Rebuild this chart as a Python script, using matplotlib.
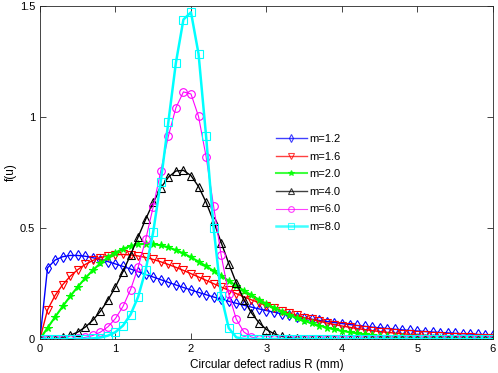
import numpy as np
import matplotlib
matplotlib.use("Agg")
import matplotlib.pyplot as plt

plt.rcParams["font.family"] = ["Liberation Sans", "DejaVu Sans"]

# defect radius grid (mm)
R = np.linspace(0, 6, 61)

f_m12 = [0, 0.3206, 0.3554, 0.3705, 0.3762, 0.3762, 0.3726, 0.3662, 0.3580, 0.3485, 0.3380,
         0.3268, 0.3151, 0.3032, 0.2911, 0.2790, 0.2670, 0.2551, 0.2434, 0.2319, 0.2207,
         0.2098, 0.1993, 0.1891, 0.1792, 0.1698, 0.1607, 0.1519, 0.1436, 0.1356, 0.1279,
         0.1206, 0.1137, 0.1071, 0.1008, 0.0948, 0.0891, 0.0837, 0.0787, 0.0738, 0.0693,
         0.0650, 0.0609, 0.0571, 0.0534, 0.0500, 0.0468, 0.0438, 0.0410, 0.0383, 0.0358,
         0.0334, 0.0312, 0.0291, 0.0272, 0.0253, 0.0236, 0.0220, 0.0205, 0.0191, 0.0178]
f_m16 = [0, 0.1315, 0.1960, 0.2443, 0.2823, 0.3123, 0.3358, 0.3537, 0.3665, 0.3750, 0.3795,
         0.3806, 0.3786, 0.3740, 0.3671, 0.3581, 0.3476, 0.3357, 0.3227, 0.3088, 0.2943,
         0.2794, 0.2643, 0.2491, 0.2340, 0.2191, 0.2045, 0.1902, 0.1765, 0.1633, 0.1506,
         0.1386, 0.1272, 0.1164, 0.1062, 0.0967, 0.0879, 0.0797, 0.0720, 0.0650, 0.0585,
         0.0526, 0.0471, 0.0421, 0.0376, 0.0335, 0.0298, 0.0264, 0.0234, 0.0206, 0.0182,
         0.0160, 0.0141, 0.0124, 0.0108, 0.0094, 0.0082, 0.0072, 0.0062, 0.0054, 0.0047]
f_m20 = [0, 0.0499, 0.0990, 0.1467, 0.1922, 0.2349, 0.2742, 0.3096, 0.3409, 0.3675, 0.3894,
         0.4065, 0.4186, 0.4260, 0.4288, 0.4273, 0.4218, 0.4127, 0.4004, 0.3853, 0.3679,
         0.3487, 0.3280, 0.3065, 0.2843, 0.2620, 0.2399, 0.2182, 0.1972, 0.1771, 0.1581,
         0.1403, 0.1237, 0.1084, 0.0945, 0.0819, 0.0705, 0.0604, 0.0514, 0.0435, 0.0366,
         0.0307, 0.0255, 0.0211, 0.0174, 0.0142, 0.0116, 0.0094, 0.0076, 0.0061, 0.0048,
         0.0038, 0.0030, 0.0024, 0.0018, 0.0014, 0.0011, 0.0008, 0.0006, 0.0005, 0.0004]
f_m40 = [0, 0.0003, 0.0020, 0.0067, 0.0160, 0.0311, 0.0536, 0.0845, 0.1248, 0.1749, 0.2349,
         0.3037, 0.3795, 0.4595, 0.5396, 0.6149, 0.6798, 0.7287, 0.7566, 0.7595, 0.7358,
         0.6867, 0.6158, 0.5292, 0.4345, 0.3399, 0.2525, 0.1776, 0.1178, 0.0734, 0.0427,
         0.0232, 0.0117, 0.0054, 0.0023, 0.0009, 0.0003, 0.0001, 0, 0, 0] + [0.0] * 20
f_m60 = [0, 0, 0, 0.0002, 0.0010, 0.0029, 0.0073, 0.0157, 0.0306, 0.0549, 0.0923,
         0.1469, 0.2226, 0.3228, 0.4482, 0.5959, 0.7564, 0.9129, 1.0413, 1.1131, 1.1036,
         1.0025, 0.8217, 0.5972, 0.3768, 0.2018, 0.0892, 0.0316, 0.0087, 0.0018, 0.0003] + [0.0] * 30
f_m80 = [0, 0, 0, 0, 0, 0.0002, 0.0009, 0.0026, 0.0066, 0.0149, 0.0311,
         0.0604, 0.1101, 0.1900, 0.3110, 0.4830, 0.7093, 0.9765, 1.2440, 1.4389, 1.4715,
         1.2845, 0.9139, 0.4993, 0.1946, 0.0492, 0.0072, 0.0005, 0, 0, 0] + [0.0] * 30

labels = ["m=1.2", "m=1.6", "m=2.0", "m=4.0", "m=6.0", "m=8.0"]
series = [f_m12, f_m16, f_m20, f_m40, f_m60, f_m80]
styles = [("#0000ff", "d", 1.0, "none"),
          ("#ff0000", "v", 1.0, "none"),
          ("#00ff00", "*", 1.5, "#00ff00"),
          ("#000000", "^", 1.0, "none"),
          ("#ff00ff", "o", 0.8, "none"),
          ("#00ffff", "s", 1.8, "none")]

fig = plt.figure(figsize=(4.98, 3.73), dpi=100)
ax = fig.add_axes([0.0803, 0.0912, 0.9096, 0.8928])

for y, lab, (c, mk, lw, mfc) in zip(series, labels, styles):
    ax.plot(R, y, color=c, lw=lw, marker=mk, ms=5.5, mfc=mfc, mec=c, mew=0.8, label=lab)

ax.set_xlim(0, 6)
ax.set_ylim(0, 1.5)
ax.set_xticks(range(7))
ax.set_yticks([0, 0.5, 1, 1.5])
ax.set_yticklabels(["0", "0.5", "1", "1.5"])
ax.tick_params(direction="in", top=True, right=True, labelsize=8, length=4, width=0.6,
               colors="#262626", labelcolor="black")
for s in ax.spines.values():
    s.set_linewidth(0.6)
    s.set_color("#262626")
ax.set_xlabel("Circular defect radius R (mm)", fontsize=8.5, labelpad=4)
ax.set_ylabel("f(u)", fontsize=8.5, labelpad=2)

leg = ax.legend(frameon=False, loc="upper left", bbox_to_anchor=(0.52, 0.615), fontsize=8,
                handlelength=2.8, handletextpad=0.25, labelspacing=0.68, borderpad=0,
                borderaxespad=0, markerscale=0.75)
for h in leg.get_lines():
    h.set_alpha(0.75)

fig.savefig("out.png", dpi=100)
